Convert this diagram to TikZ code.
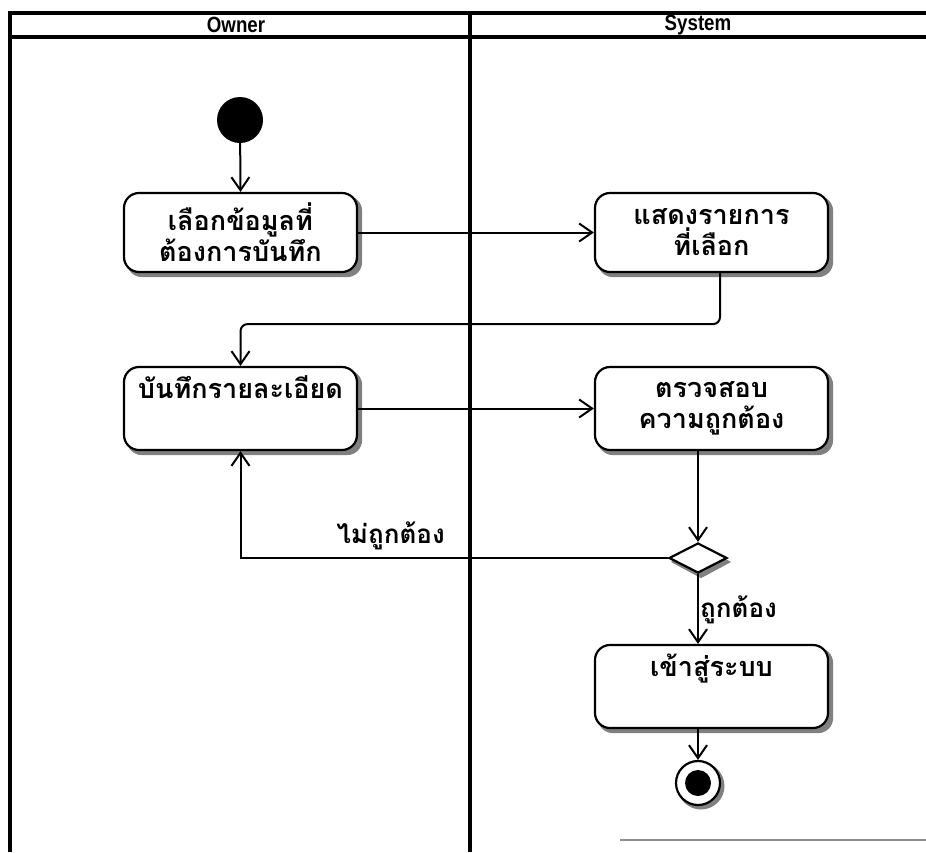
\documentclass[tikz,border=0pt]{standalone}
\usepackage{fontspec}
\newfontfamily\thaifont[Script=Thai]{Loma}
\newfontfamily\headfont{Liberation Sans}
\usetikzlibrary{arrows.meta,shapes.geometric}
\pgfdeclarelayer{paper}
\pgfdeclarelayer{shadowlayer}
\pgfsetlayers{paper,shadowlayer,main}
\begin{document}
\begin{tikzpicture}[x=1pt,y=-1pt,
  lane/.style={line width=4pt},
  shadowfill/.style={fill=black!50},
  act/.style={draw, line width=2.2pt, rounded corners=15pt, fill=white,
    minimum width=233pt, align=center},
  acttext/.style={font=\thaifont\bfseries\fontsize{27}{31}\selectfont, align=center},
  flow/.style={line width=2pt, -{Straight Barb[length=13pt,width=18pt,line width=2pt]}},
  guard/.style={font=\thaifont\bfseries\fontsize{26}{30}\selectfont, inner sep=1pt},
  head/.style={font=\headfont\bfseries\fontsize{22}{26}\selectfont, xscale=0.85}]
\useasboundingbox (0,0) rectangle (926,852);
\begin{pgfonlayer}{paper}
  \fill[white] (0,0) rectangle (926,852);
\end{pgfonlayer}

% swimlane frame
\draw[lane] (10,852) -- (10,13) -- (926,13);
\draw[lane] (10,37) -- (926,37);
\draw[lane] (470,13) -- (470,852);
\draw[black!45, line width=2pt] (620,840) -- (926,840);
\node[head] (hOwner) at (236,25) {Owner};
\node[head] (hSystem) at (698,25) {System};

% start and end
\node (init) [circle, fill=black, minimum size=46pt, inner sep=0pt] at (240,120) {};
\node (final) [circle, draw, line width=2.2pt, fill=white, minimum size=44pt, inner sep=0pt]
  at (698,783) {};
\fill (final) circle (13pt);

% activities
\node[act, acttext, minimum height=79pt] (b1) at (240.5,232.5) {เลือกข้อมูลที่\\ต้องการบันทึก};
\node[act, acttext, minimum height=79pt] (b2) at (711.5,232.5) {แสดงรายการ\\ที่เลือก};
\node[act, minimum height=83pt] (b3) at (240.5,408.5) {};
\node[act, acttext, minimum height=83pt] (b4) at (711.5,408.5) {ตรวจสอบ\\ความถูกต้อง};
\node[act, minimum height=83pt] (b5) at (711.5,686.5) {};
\node[acttext, anchor=north] (t3) at (240.5,372) {บันทึกรายละเอียด};
\node[acttext, anchor=north] (t5) at (711.5,650) {เข้าสู่ระบบ};

% decision
\node (dec) [diamond, draw, line width=2.2pt, fill=white, minimum width=58pt, minimum height=30pt,
  inner sep=0pt, aspect=2] at (698,558) {};

% grey drop shadows behind the shapes
\begin{pgfonlayer}{shadowlayer}
  \foreach \b in {b1,b2,b3,b4,b5}
    \fill[shadowfill, rounded corners=15pt]
      ([shift={(4,4)}]\b.north west) rectangle ([shift={(4,4)}]\b.south east);
  \fill[shadowfill] ([shift={(3,4)}]dec.north) -- ([shift={(3,4)}]dec.east)
    -- ([shift={(3,4)}]dec.south) -- ([shift={(3,4)}]dec.west) -- cycle;
  \fill[shadowfill] ([shift={(3,3)}]final.center) circle (23.5pt);
\end{pgfonlayer}

% flows
\draw[flow] (init) -- (b1.north);
\draw[flow] (b1.east) -- (b2.west);
\draw[flow, rounded corners=7pt] ([xshift=8.5pt]b2.south) -- ++(0,51) -| (b3.north);
\draw[flow] (b3.east) -- (b4.west);
\draw[flow] (dec |- b4.south) -- (dec.north);
\draw[flow] (dec.west) -| (b3.south);
\draw[flow] (dec.south) -- (dec |- b5.north);
\draw[flow] (final |- b5.south) -- (final.north);

% guards
\node[guard, anchor=south east] (gNo) at (446,551) {ไม่ถูกต้อง};
\node[guard, anchor=west] (gYes) at (699,610) {ถูกต้อง};
\end{tikzpicture}
\end{document}
